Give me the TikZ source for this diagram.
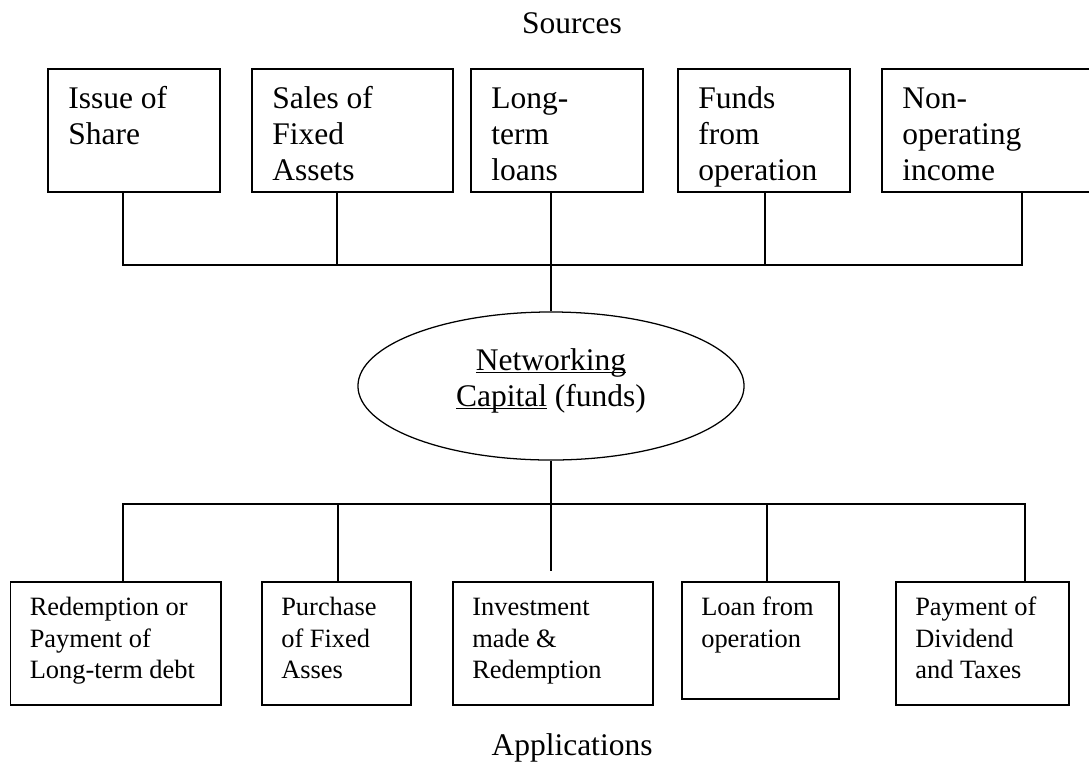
\documentclass[tikz,border=0pt]{standalone}
\usepackage{fontspec}
\setmainfont{Liberation Serif}
\usetikzlibrary{positioning,shapes.geometric}

\tikzset{
  srcbox/.style={draw, line width=1.2pt, inner sep=0pt, anchor=north west, minimum height=3.075cm},
  appbox/.style={draw, line width=1.2pt, inner sep=0pt, anchor=north west, minimum height=3.075cm},
  srctxt/.style={anchor=north west, inner sep=0pt, align=left, font=\fontsize{22.4pt}{25.6pt}\selectfont},
  apptxt/.style={anchor=north west, inner sep=0pt, align=left, font=\fontsize{18.8pt}{22.5pt}\selectfont},
  heading/.style={anchor=base, inner sep=0pt, font=\fontsize{22.4pt}{25.6pt}\selectfont},
  bus/.style={line width=0.9pt}
}

\begin{document}
\begin{tikzpicture}[x=0.025cm, y=-0.025cm]
  \useasboundingbox (0,0) rectangle (1089,765);

  \node[heading] (src) at (572,33) {Sources};

  % sources
  \node[srcbox, minimum width=4.3cm] (t1) at (47,68) {};
  \node[srcbox, minimum width=5.025cm] (t2) at (251,68) {};
  \node[srcbox, minimum width=4.3cm] (t3) at (470,68) {};
  \node[srcbox, minimum width=4.3cm] (t4) at (677,68) {};
  \node[srcbox, minimum width=5.75cm] (t5) at (881,68) {};
  \node[srctxt] (t1-txt) at (68,83) {\strut Issue of\\Share};
  \node[srctxt] (t2-txt) at (272,83) {\strut Sales of\\Fixed\\Assets};
  \node[srctxt] (t3-txt) at (491,83) {\strut Long-\\term\\loans};
  \node[srctxt] (t4-txt) at (698,83) {\strut Funds\\from\\operation};
  \node[srctxt] (t5-txt) at (902,83) {\strut Non-\\operating\\income};

  \node[draw, ellipse, line width=0.9pt, minimum width=9.65cm, minimum height=3.7cm, inner sep=0pt] (nwc) at (551,386) {};
  \node[align=center, inner sep=0pt, font=\fontsize{22.4pt}{25.6pt}\selectfont] (nwc-txt) at (551,392)
        {\underline{\smash{Networking}}\\\underline{\smash{Capital}} (funds)};

  \coordinate (s1) at (123,265);
  \coordinate (s2) at (337,265);
  \coordinate (s3) at (551,265);
  \coordinate (s4) at (765,265);
  \coordinate (s5) at (1022,265);
  \draw[bus] (s1 |- t1.south) -- (s1) -- (s5) -- (s5 |- t5.south);
  \draw[bus] (s2 |- t2.south) -- (s2);
  \draw[bus] (s4 |- t4.south) -- (s4);
  \draw[bus] (s3 |- t3.south) -- (nwc.north);

  % applications
  \node[appbox, minimum width=5.26cm] (b1) at (9.5,581) {};
  \node[appbox, minimum width=3.725cm] (b2) at (261,581) {};
  \node[appbox, minimum width=5cm] (b3) at (452,581) {};
  \node[appbox, minimum width=3.925cm, minimum height=2.925cm] (b4) at (681,581) {};
  \node[appbox, minimum width=4.325cm] (b5) at (895,581) {};
  \node[apptxt] (b1-txt) at (29.5,593) {\strut Redemption or\\Payment of\\Long-term debt};
  \node[apptxt] (b2-txt) at (281,593) {\strut Purchase\\of Fixed\\Asses};
  \node[apptxt] (b3-txt) at (472,593) {\strut Investment\\made \&\\Redemption};
  \node[apptxt] (b4-txt) at (701,593) {\strut Loan from\\operation};
  \node[apptxt] (b5-txt) at (915,593) {\strut Payment of\\Dividend\\and Taxes};

  \coordinate (a1) at (123,504);
  \coordinate (a2) at (338,504);
  \coordinate (a4) at (767,504);
  \coordinate (a5) at (1025,504);
  \coordinate (a3end) at (551,571);
  \draw[bus] (b1.north -| a1) -- (a1) -- (a5) -- (b5.north -| a5);
  \draw[bus] (a2) -- (b2.north -| a2);
  \draw[bus] (a4) -- (b4.north -| a4);
  \draw[bus] (nwc.south) -- (a3end);

  \node[heading] (app) at (572,755) {Applications};
\end{tikzpicture}
\end{document}
